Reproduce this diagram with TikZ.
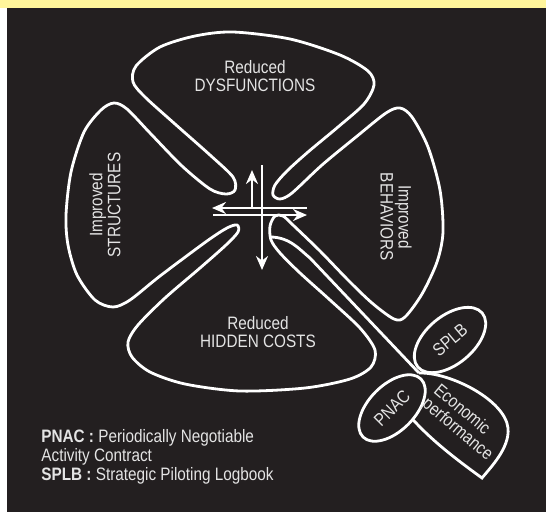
\documentclass[tikz,border=0pt]{standalone}
\usepackage{fontspec}
\setmainfont[FakeStretch=0.85]{Liberation Sans}
\usepackage{tikz}
\usetikzlibrary{arrows.meta, shapes.geometric}
\definecolor{board}{RGB}{35,31,32}
\definecolor{band}{RGB}{255,245,155}
\definecolor{ink}{RGB}{228,228,228}

\begin{document}
\begin{tikzpicture}[x=0.5pt, y=-0.5pt,
  outline/.style={draw=white, line width=1.4pt},
  petaltext/.style={text=ink, font=\fontsize{9}{9}\selectfont, align=center, inner sep=0pt},
  cross/.style={draw=white, line width=1.4pt, -{Stealth[length=7pt, width=6pt]}},
  leafel/.style={ellipse, outline, fill=board, inner sep=0pt}]
  \useasboundingbox (0,0) rectangle (546,515);
  \fill[white] (0,0) rectangle (546,515);
  \fill[band] (0,0) rectangle (546,8);
  \fill[board] (7,8) rectangle (546,512);

  % clover
  \draw[outline] plot[smooth cycle, tension=0.5] coordinates {
    (233,32) (290,39) (340,55) (368,71) (374,85) (364,104) (338,127) (308,152)
    (287,171) (275,185) (273,195) (280,199) (292,193) (322,165) (356,137)
    (386,113) (400,108) (412,117) (428,147) (440,190) (443,232) (437,262)
    (422,294) (405,317) (394,319) (372,303) (348,280) (320,251) (294,226)
    (283,216) (275,216) (270,226) (271,240) (280,253) (300,273) (330,300)
    (360,328) (375,350) (371,367) (350,379) (305,388) (240,391) (185,384)
    (150,372) (132,357) (128,342) (138,325) (165,298) (200,268) (226,245)
    (238,232) (237,225) (227,228) (207,241) (160,276) (130,300) (113,307)
    (95,300) (77,275) (68,245) (66,215) (71,172) (84,132) (101,110) (114,103)
    (127,109) (150,133) (182,166) (210,189) (226,194) (235,190) (233,177)
    (210,155) (175,124) (145,97) (133,82) (136,66) (160,47) (195,36)};

  \node[petaltext] (dysf) at (255,76) {Reduced\\DYSFUNCTIONS};
  \node[petaltext, rotate=-90] (behav) at (396,217) {Improved\\BEHAVIORS};
  \node[petaltext, rotate=90] (struct) at (105,205) {Improved\\STRUCTURES};
  \node[petaltext] (hidden) at (258,332) {Reduced\\HIDDEN COSTS};

  % arrows in the middle
  \coordinate (upS) at (252,207);
  \coordinate (upE) at (252,170);
  \coordinate (downS) at (262,165);
  \coordinate (downE) at (262,270);
  \coordinate (leftS) at (307,208);
  \coordinate (leftE) at (212,208);
  \coordinate (rightS) at (213,215);
  \coordinate (rightE) at (307,215);
  \draw[cross] (upS) -- (upE);
  \draw[cross] (downS) -- (downE);
  \draw[cross] (leftS) -- (leftE);
  \draw[cross] (rightS) -- (rightE);

  % stem and leaf
  \coordinate (fork) at (270,237);
  \coordinate (junc) at (419,373);
  \draw[outline] (fork) .. controls (290,237) and (300,250) .. (310,258) -- (junc);
  \draw[outline] (junc) .. controls (450,372) and (505,400) .. (508,428)
    .. controls (510,448) and (490,468) .. (482,478)
    .. controls (460,462) and (430,440) .. (408,414);
  \node[leafel, rotate=40, minimum width=42pt, minimum height=24pt,
    text=ink, font=\fontsize{9}{9}\selectfont] (splb) at (450,340) {SPLB};
  \node[leafel, rotate=45, minimum width=41pt, minimum height=23pt,
    text=ink, font=\fontsize{9}{9}\selectfont] (pnac) at (392,408) {PNAC};
  \node[petaltext, rotate=-40, align=left] (econ) at (463,423) {Economic\\performance};

  \node[petaltext, anchor=west, align=left, font=\fontsize{9}{9.5}\selectfont] (legend) at (41,457)
    {\textbf{PNAC :} Periodically Negotiable\\Activity Contract\\\textbf{SPLB :} Strategic Piloting Logbook};
\end{tikzpicture}
\end{document}
